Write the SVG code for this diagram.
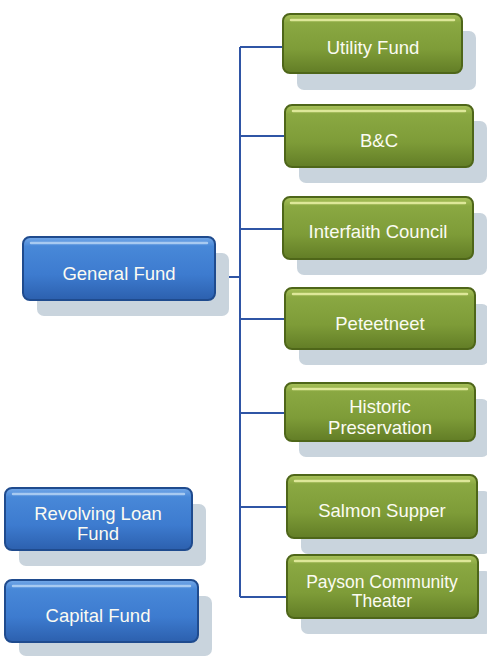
<svg xmlns="http://www.w3.org/2000/svg" width="487" height="657" viewBox="0 0 487 657">
<defs>
<linearGradient id="gg" x1="0" y1="0" x2="0" y2="1">
<stop offset="0" stop-color="#a9c25a"/>
<stop offset="0.15" stop-color="#8aa842"/>
<stop offset="0.6" stop-color="#7e9c38"/>
<stop offset="1" stop-color="#627d26"/>
</linearGradient>
<linearGradient id="bg" x1="0" y1="0" x2="0" y2="1">
<stop offset="0" stop-color="#74a8e8"/>
<stop offset="0.15" stop-color="#4888d8"/>
<stop offset="0.6" stop-color="#3d7bcf"/>
<stop offset="1" stop-color="#2c60ae"/>
</linearGradient>
<style>
.sh{fill:#c9d4dd}
.g{fill:url(#gg);stroke:#4e6619;stroke-width:2}
.b{fill:url(#bg);stroke:#1f4b8e;stroke-width:2}
.hg{stroke:#e6eea2;stroke-width:2.5;stroke-linecap:round;opacity:0.9}
.hb{stroke:#bcd8f6;stroke-width:2.5;stroke-linecap:round;opacity:0.8}
.t{font-family:"Liberation Sans",Arial,sans-serif;font-size:18.5px;fill:#fbfbf2;text-anchor:middle}
.c{fill:none;stroke:#2f55a5;stroke-width:2}
</style>
</defs>
<g id="connectors">
<path class="c" d="M240 47 V597 M240 47 H283 M240 136 H285 M240 229 H283 M240 319 H285 M240 413 H285 M240 507 H287 M240 597 H287 M215 277 H240"/>
</g>
<g id="utility">
<rect class="sh" x="297" y="31" width="179" height="59" rx="7"/>
<rect class="g" x="283" y="14" width="179" height="59" rx="7"/>
<line class="hg" x1="291" y1="20" x2="454" y2="20"/>
<text class="t" x="373" y="54">Utility  Fund</text>
</g>
<g id="bc">
<rect class="sh" x="299" y="121" width="188" height="62" rx="7"/>
<rect class="g" x="285" y="105" width="188" height="62" rx="7"/>
<line class="hg" x1="293" y1="111" x2="465" y2="111"/>
<text class="t" x="379" y="147">B&amp;C</text>
</g>
<g id="interfaith">
<rect class="sh" x="297" y="213" width="190" height="62" rx="7"/>
<rect class="g" x="283" y="197" width="190" height="62" rx="7"/>
<line class="hg" x1="291" y1="203" x2="465" y2="203"/>
<text class="t" x="378" y="238">Interfaith Council</text>
</g>
<g id="peteetneet">
<rect class="sh" x="299" y="304" width="190" height="61" rx="7"/>
<rect class="g" x="285" y="288" width="190" height="61" rx="7"/>
<line class="hg" x1="293" y1="294" x2="467" y2="294"/>
<text class="t" x="380" y="330">Peteetneet</text>
</g>
<g id="historic">
<rect class="sh" x="299" y="399" width="190" height="58" rx="7"/>
<rect class="g" x="285" y="383" width="190" height="58" rx="7"/>
<line class="hg" x1="293" y1="389" x2="467" y2="389"/>
<text class="t" x="380" y="413">Historic</text>
<text class="t" x="380" y="434">Preservation</text>
</g>
<g id="salmon">
<rect class="sh" x="301" y="491" width="190" height="63" rx="7"/>
<rect class="g" x="287" y="475" width="190" height="63" rx="7"/>
<line class="hg" x1="295" y1="481" x2="469" y2="481"/>
<text class="t" x="382" y="517">Salmon Supper</text>
</g>
<g id="payson">
<rect class="sh" x="301" y="571" width="191" height="63" rx="7"/>
<rect class="g" x="287" y="555" width="191" height="63" rx="7"/>
<line class="hg" x1="295" y1="561" x2="470" y2="561"/>
<text class="t" x="382" y="588" style="font-size:17.5px">Payson Community</text>
<text class="t" x="382" y="607" style="font-size:17.5px">Theater</text>
</g>
<g id="general">
<rect class="sh" x="37" y="253" width="192" height="63" rx="7"/>
<rect class="b" x="23" y="237" width="192" height="63" rx="7"/>
<line class="hb" x1="31" y1="243" x2="207" y2="243"/>
<text class="t" x="119" y="280">General Fund</text>
</g>
<g id="revolving">
<rect class="sh" x="19" y="504" width="187" height="62" rx="7"/>
<rect class="b" x="5" y="488" width="187" height="62" rx="7"/>
<line class="hb" x1="13" y1="494" x2="184" y2="494"/>
<text class="t" x="98" y="520">Revolving Loan</text>
<text class="t" x="98" y="540">Fund</text>
</g>
<g id="capital">
<rect class="sh" x="19" y="596" width="193" height="60" rx="7"/>
<rect class="b" x="5" y="580" width="193" height="62" rx="7"/>
<line class="hb" x1="13" y1="586" x2="190" y2="586"/>
<text class="t" x="98" y="622">Capital Fund</text>
</g>
</svg>
